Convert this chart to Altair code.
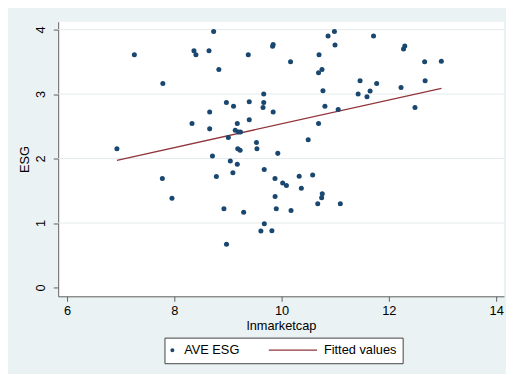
import altair as alt
import pandas as pd

# ---- data ----
lnmarketcap = [6.93, 7.255, 7.777, 7.786, 7.956, 8.33, 8.366, 8.403, 8.647, 8.659,
               8.659, 8.711, 8.733, 8.784, 8.83, 8.925, 8.971, 8.973, 9.007, 9.044,
               9.092, 9.104, 9.136, 9.174, 9.174, 9.183, 9.196, 9.227, 9.233, 9.293,
               9.379, 9.397, 9.397, 9.531, 9.54, 9.614, 9.654, 9.667, 9.667, 9.676,
               9.678, 9.819, 9.832, 9.843, 9.843, 9.877, 9.879, 9.901, 9.929, 10.02,
               10.09, 10.167, 10.176, 10.328, 10.368, 10.496, 10.579, 10.674, 10.689, 10.698,
               10.689, 10.747, 10.758, 10.753, 10.771, 10.808, 10.866, 10.985, 10.996, 11.055,
               11.095, 11.427, 11.463, 11.592, 11.65, 11.714, 11.773, 12.227, 12.273, 12.297,
               12.487, 12.667, 12.676, 12.978]
ave_esg = [2.15, 3.61, 1.69, 3.165, 1.385, 2.545, 3.67, 3.61, 3.67, 2.72,
           2.46, 2.04, 3.97, 1.72, 3.38, 1.22, 2.87, 0.67, 2.325, 1.96,
           1.78, 2.81, 2.44, 2.545, 1.91, 2.15, 2.41, 2.13, 2.41, 1.165,
           3.61, 2.88, 2.60, 2.25, 2.15, 0.875, 2.79, 2.87, 3.00, 1.83,
           0.99, 0.88, 3.74, 3.77, 2.72, 1.69, 1.41, 1.22, 2.08, 1.62,
           1.58, 3.50, 1.195, 1.725, 1.54, 2.29, 1.745, 1.30, 3.33, 3.61,
           2.545, 1.39, 1.455, 3.38, 3.05, 2.81, 3.90, 3.97, 3.76, 2.76,
           1.30, 3.00, 3.205, 2.96, 3.047, 3.90, 3.165, 3.10, 3.70, 3.745,
           2.79, 3.50, 3.205, 3.51]
fit_x = [6.93, 12.98]
fit_y = [1.97, 3.09]
series_names = ["AVE ESG", "Fitted values"]
x_ticks = [6, 8, 10, 12, 14]
y_ticks = [0, 1, 2, 3, 4]
y_grid = [1, 2, 3, 4]

scatter_df = pd.DataFrame({"lnmarketcap": lnmarketcap, "esg": ave_esg, "series": series_names[0]})
fit_df = pd.DataFrame({"lnmarketcap": fit_x, "esg": fit_y, "series": series_names[1]})
grid_df = pd.DataFrame({"esg": y_grid})

NAVY = "#1a476f"
MAROON = "#90353b"
BG = "#eaf2f3"
FONT = "Liberation Sans"
AXC = "#5f5f5f"

xscale = alt.Scale(domain=[5.835, 14.147], nice=False, zero=False)
yscale = alt.Scale(domain=[-0.137, 4.122], nice=False, zero=False)
color_scale = alt.Scale(domain=series_names, range=[NAVY, MAROON])
circle_path = "M -1.0,0 A 0.308,0.308 0 1,0 -0.384,0 A 0.308,0.308 0 1,0 -1.0,0 Z"
line_path = "M -7.46,-0.09 L 0.08,-0.09 L 0.08,0.09 L -7.46,0.09 Z"
shape_scale = alt.Scale(domain=series_names, range=[circle_path, line_path])

x_axis = alt.Axis(values=x_ticks, title="lnmarketcap", grid=False, domainColor=AXC,
                  tickColor=AXC, tickSize=5, labelPadding=3, labelFont=FONT,
                  labelFontSize=13, labelColor="black", titleFont=FONT, titleFontSize=13,
                  titleFontWeight="normal", titleColor="black", titlePadding=3,
                  labelFlush=False)
y_axis = alt.Axis(values=y_ticks, title="ESG", grid=False, domainColor=AXC,
                  tickColor=AXC, tickSize=5, labelPadding=9, labelFont=FONT,
                  labelFontSize=13, labelColor="black", labelAngle=270,
                  labelAlign="center", labelBaseline="alphabetic",
                  titleFont=FONT, titleFontSize=13, titleFontWeight="normal",
                  titleColor="black", titlePadding=3, labelFlush=False)

X = alt.X("lnmarketcap:Q", scale=xscale, axis=x_axis)
Y = alt.Y("esg:Q", scale=yscale, axis=y_axis)

leg = alt.Legend(title=None, orient="none", legendX=108, legendY=321,
                 direction="horizontal", symbolSize=169, symbolStrokeWidth=0,
                 labelFont=FONT, labelFontSize=13, labelColor="black",
                 labelOffset=1, columnPadding=29, padding=6,
                 strokeColor="#404040", fillColor="white", symbolOpacity=1)

C = alt.Color("series:N", scale=color_scale, legend=leg)

legend_layer = alt.Chart(scatter_df).transform_filter("false").mark_point(
    filled=True, opacity=1, size=169).encode(
    x=X, y=Y, color=C,
    shape=alt.Shape("series:N", scale=shape_scale, legend=leg))

grid = alt.Chart(grid_df).mark_rule(color="#e3ebed", strokeWidth=1).encode(y=Y)

points = alt.Chart(scatter_df).mark_circle(size=26, opacity=1).encode(x=X, y=Y, color=C)

fit = alt.Chart(fit_df).mark_line(strokeWidth=1.3).encode(x=X, y=Y, color=C)

chart = alt.layer(legend_layer, grid, fit, points).properties(
    width=453, height=279,
    autosize=alt.AutoSizeParams(type="none"),
    padding={"left": 51, "top": 11, "right": 2, "bottom": 76},
    background=BG,
).configure_view(fill="white", stroke=None)

chart.save("out.html", embed_options={"renderer": "svg", "actions": False})
